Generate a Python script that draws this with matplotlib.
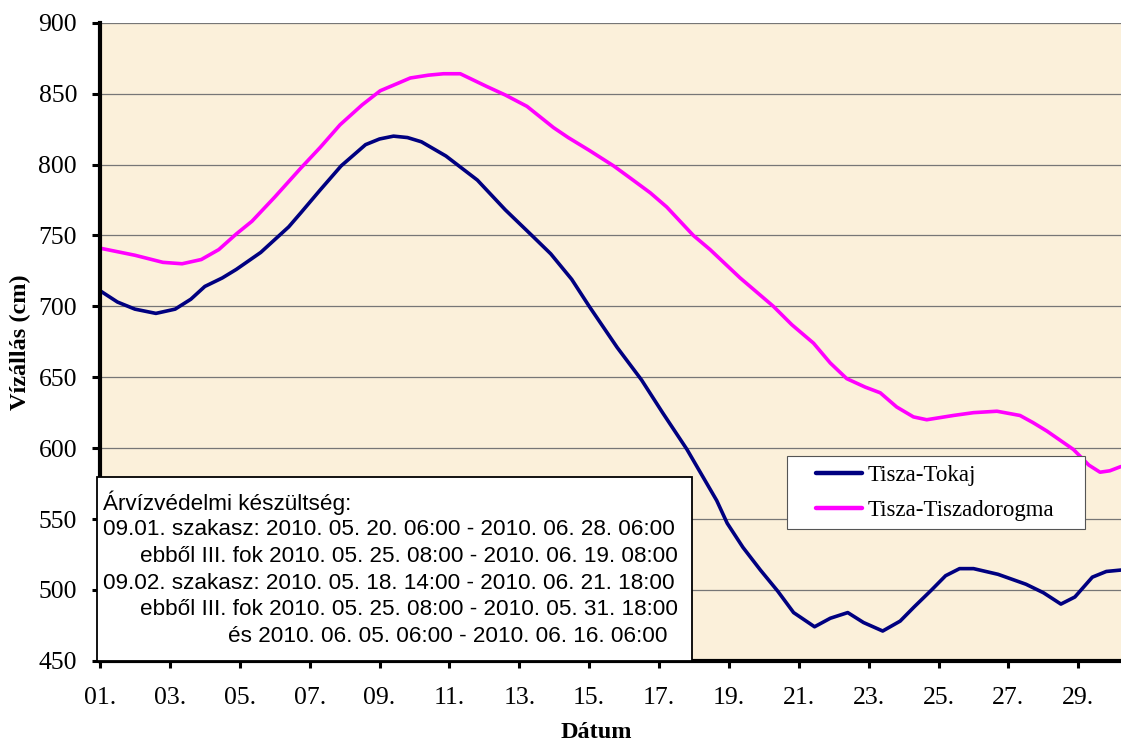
import matplotlib

matplotlib.use("Agg")

import matplotlib.pyplot as plt
from matplotlib.patches import Rectangle

# Data (June 2010, daily water level in cm)
tokaj_days = [
    1.0, 1.5, 2.0, 2.6, 3.15, 3.6, 4.0, 4.5, 4.9, 5.6, 6.4, 6.75, 7.3, 7.9,
    8.6, 9.0, 9.4, 9.8, 10.2, 10.9, 11.8, 12.6, 13.4, 13.9, 14.5, 15.0, 15.8,
    16.5, 17.1, 17.8, 18.65, 18.95, 19.4, 19.9, 20.4, 20.85, 21.45, 21.9,
    22.4, 22.85, 23.4, 23.9, 24.3, 24.8, 25.2, 25.6, 26.0, 26.7, 27.5, 28.0,
    28.5, 28.9, 29.4, 29.8, 30.22,
]
tokaj_cm = [
    711, 703, 698, 695, 698, 705, 714, 720, 726, 738, 756, 766, 782, 799,
    814, 818, 820, 819, 816, 806, 789, 768, 749, 737, 719, 700, 671,
    648, 625, 599, 563, 547, 530, 514, 499, 484, 474, 480,
    484, 477, 471, 478, 488, 500, 510, 515, 515, 511, 504, 498,
    490, 495, 509, 513, 514,
]

dorogma_days = [
    1.0, 2.0, 2.8, 3.35, 3.9, 4.4, 4.9, 5.35, 6.0, 6.73, 7.3, 7.87, 8.5,
    9.02, 9.5, 9.88, 10.4, 10.83, 11.31, 12.07, 12.6, 13.22, 13.98, 14.4,
    15.0, 15.7, 16.2, 16.75, 17.22, 17.98, 18.46, 19.32, 20.27, 20.8, 21.42,
    21.9, 22.37, 22.9, 23.33, 23.8, 24.28, 24.66, 25.42, 26.0, 26.67, 27.33,
    27.7, 28.1, 28.86, 29.3, 29.62, 29.9, 30.22,
]
dorogma_cm = [
    741, 736, 731, 730, 733, 740, 751, 760, 777, 797, 812, 828, 842,
    852, 857, 861, 863, 864, 864, 855, 849, 841, 826, 819,
    810, 799, 790, 780, 770, 750, 740, 720, 700, 687, 674,
    660, 649, 643, 639, 629, 622, 620, 623, 625, 626, 623,
    618, 612, 599, 588, 583, 584, 587,
]

tick_days = list(range(1, 30, 2))
tick_labels = [f"{d:02d}." for d in tick_days]

notes = [
    "Árvízvédelmi készültség:",
    "09.01. szakasz: 2010. 05. 20. 06:00 - 2010. 06. 28. 06:00",
    "ebből III. fok 2010. 05. 25. 08:00 - 2010. 06. 19. 08:00",
    "09.02. szakasz: 2010. 05. 18. 14:00 - 2010. 06. 21. 18:00",
    "ebből III. fok 2010. 05. 25. 08:00 - 2010. 05. 31. 18:00",
    "és 2010. 06. 05. 06:00 - 2010. 06. 16. 06:00",
]
# left edge of each note line, in pixels of the original picture
note_x_px = [103, 103, 140, 103, 140, 228]

plt.rcParams["font.family"] = ["Liberation Serif", "DejaVu Serif"]

W, H = 1121, 745
fig = plt.figure(figsize=(W / 100, H / 100), dpi=100)
ax_left, ax_right = 100 / W, 1.0
ax_bottom, ax_top = (H - 660.8) / H, (H - 22.7) / H
ax = fig.add_axes([ax_left, ax_bottom, ax_right - ax_left, ax_top - ax_bottom])
ax.set_facecolor("#FBF0DA")

ax.plot(tokaj_days, tokaj_cm, color="#000080", lw=2.6,
        solid_joinstyle="round", solid_capstyle="round",
        label="Tisza-Tokaj", zorder=3)
ax.plot(dorogma_days, dorogma_cm, color="#FF00FF", lw=2.6,
        solid_joinstyle="round", solid_capstyle="round",
        label="Tisza-Tiszadorogma", zorder=3)

ax.set_xlim(1, 30.22)
ax.set_ylim(450, 900)
ax.set_yticks(range(450, 901, 50))
ax.set_xticks(tick_days)
ax.set_xticklabels(tick_labels)
ax.yaxis.grid(True, color="#767676", lw=0.9)
ax.set_axisbelow(True)

for side in ("top", "right"):
    ax.spines[side].set_visible(False)
for side in ("left", "bottom"):
    ax.spines[side].set_linewidth(3.0)
    ax.spines[side].set_zorder(5)

ax.tick_params(axis="y", length=5.5, width=2.2, pad=11, labelsize=18.5)
ax.tick_params(axis="x", length=5, width=2.2, pad=14, labelsize=18.5)

ax.set_ylabel("Vízállás (cm)", fontsize=17.5, fontweight="bold")
ax.yaxis.set_label_coords((20 - 100) / 1021, 0.5)
ax.yaxis.label.set_va("center")
ax.set_xlabel("Dátum", fontsize=17.5, fontweight="bold")
ax.xaxis.set_label_coords((596 - 100) / 1021, -(733 - 660.8) / 638.1)
ax.xaxis.label.set_va("center")


def ax_x(px):
    return (px - 100) / 1021


def ax_y(py):
    return (660.8 - py) / 638.1


# notes box
box = Rectangle((ax_x(97), 0), ax_x(692) - ax_x(97), ax_y(476.7),
                transform=ax.transAxes, facecolor="white", edgecolor="black",
                lw=1.3, zorder=6, clip_on=False)
ax.add_patch(box)
for i, (line, px) in enumerate(zip(notes, note_x_px)):
    ax.text(ax_x(px), ax_y(503 + i * 26.7), line, transform=ax.transAxes,
            ha="left", va="center", fontsize=16.2, zorder=7,
            family=["Liberation Sans", "DejaVu Sans"])

# legend frame
frame = Rectangle((ax_x(786.7), ax_y(529)), ax_x(1085) - ax_x(786.7),
                  ax_y(456) - ax_y(529), transform=ax.transAxes,
                  facecolor="white", edgecolor="#555555", lw=0.8, zorder=6)
ax.add_patch(frame)
leg = ax.legend(loc="upper left", bbox_to_anchor=(ax_x(816), ax_y(465)),
                frameon=False, fontsize=16.5, handlelength=2.0,
                handletextpad=0.25, labelspacing=0.6, borderpad=0,
                borderaxespad=0)
leg.set_zorder(7)
for h in leg.get_lines():
    h.set_linewidth(3.2)

fig.savefig("out.png", dpi=100)
